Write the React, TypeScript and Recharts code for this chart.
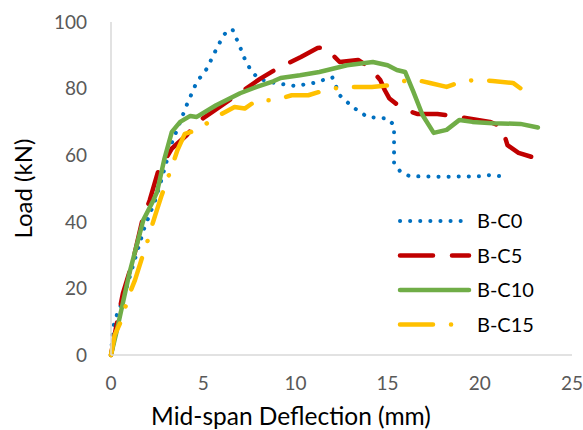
import React from 'react';
import { LineChart, Line, XAxis, YAxis, Legend, Label } from 'recharts';

// B-C0
const bc0X = [0, 0.1, 0.4, 0.6, 1.2, 1.8, 2.4, 2.65, 3.3, 3.75, 4.1, 4.65, 5.2, 5.6, 6.1, 6.4, 6.6, 7.0, 7.2, 7.6, 8.0, 8.6, 9.2, 10.0, 11.0, 12.0, 12.4, 13.1, 13.9, 15.0, 15.35, 15.35, 15.7, 16.2, 18, 20, 20.5, 21.5];
const bc0Y = [0, 8, 13.5, 15.6, 27, 38, 46.5, 51, 63.7, 70, 75, 82, 86, 90.6, 96, 97.8, 97.6, 92.5, 89.5, 85.3, 83, 82, 81.4, 80.8, 81.7, 83.4, 78, 74.5, 71.5, 71, 69, 57.6, 55, 53.7, 53.5, 53.7, 54, 53.5];

// B-C5
const bc5X = [0, 0.3, 0.65, 1.2, 1.7, 2.1, 2.55, 3.3, 4.1, 4.7, 5.5, 6.8, 8.1, 9.0, 10.3, 11.2, 11.6, 12.4, 13.4, 14.0, 14.6, 14.85, 15.1, 15.8, 16.6, 17.7, 18.9, 20.55, 21.2, 21.5, 22.1, 23.1];
const bc5Y = [0, 9, 18.6, 28.5, 40.5, 46.5, 55, 62, 66, 70, 73, 78, 83, 86, 89.5, 92.2, 92.5, 88, 88.6, 86.5, 82.6, 79.5, 77, 74, 72.4, 72.4, 71.5, 70, 68.5, 63, 60.7, 59];

// B-C10
const bc10X = [0, 0.3, 1.0, 1.75, 2.3, 2.5, 2.9, 3.3, 3.75, 4.3, 4.65, 5.7, 7, 7.9, 8.8, 9.2, 10.25, 11.3, 12.8, 14.2, 15, 15.5, 15.95, 16.4, 16.9, 17.5, 18.2, 18.9, 19.6, 20.7, 22.2, 23.15];
const bc10Y = [0, 7, 24.6, 40.5, 46.5, 49, 59, 67, 70, 71.8, 71.5, 75, 78.6, 80.5, 82.2, 83.2, 84, 85, 87, 88, 87, 85.6, 85, 79, 72, 66.7, 67.6, 70.6, 70, 69.6, 69.4, 68.3];

// B-C15
const bc15X = [0, 0.2, 0.65, 0.9, 1.3, 1.7, 1.85, 2.1, 2.4, 2.75, 3.3, 3.6, 4.0, 4.7, 5.55, 6.2, 6.7, 7.25, 7.9, 8.9, 9.8, 10.7, 11.9, 13.1, 14.15, 15.1, 16.3, 17.3, 18.2, 19.1, 20, 20.7, 21.8, 22.55];
const bc15Y = [0, 6, 11.5, 17, 22.5, 29.5, 31.5, 36.7, 42, 48, 56.5, 61.5, 66.4, 67.6, 71, 73, 74.5, 74, 76.5, 76.5, 78, 78, 80, 80.5, 80.5, 81, 82.9, 81.7, 80.5, 82.3, 82.6, 82.3, 81.7, 78.7];

const xTicks = [0, 5, 10, 15, 20, 25];
const yTicks = [0, 20, 40, 60, 80, 100];

const FONT = 'Lato, "Open Sans", sans-serif';

const toPoints = (xs: number[], ys: number[]) => xs.map((x, i) => ({ x, y: ys[i] }));

const series = [
  { name: 'B-C0', data: toPoints(bc0X, bc0Y), color: '#0070C0', width: 4, dash: '0.1 10' },
  { name: 'B-C5', data: toPoints(bc5X, bc5Y), color: '#C00000', width: 4.5, dash: '33 19' },
  { name: 'B-C10', data: toPoints(bc10X, bc10Y), color: '#70AD47', width: 4.5, dash: undefined },
  { name: 'B-C15', data: toPoints(bc15X, bc15Y), color: '#FFC000', width: 4.5, dash: '33 18 0.1 18' },
];

const renderLegend = () => (
  <svg width={170} height={140}>
    {series.map((s, i) => (
      <g key={s.name} transform={`translate(0, ${16 + i * 34.5})`}>
        <line x1={3} x2={72} y1={0} y2={0} stroke={s.color} strokeWidth={s.width}
          strokeDasharray={s.dash} strokeLinecap="round" />
        <text x={80} y={0} dy="0.35em" fontSize={20} fontFamily={FONT} fill="#000">{s.name}</text>
      </g>
    ))}
  </svg>
);

// x title is centred on the whole picture, not on the plot
const XTitle = () => (
  <text x={291} y={424.5} textAnchor="middle" fontSize={24.5} fontFamily={FONT} fill="#000">
    Mid-span Deflection (mm)
  </text>
);

const App: React.FC = () => {
  return (
    <div style={{ position: 'absolute', left: 0, top: 0, background: '#fff' }}>
      <LineChart width={583} height={430} margin={{ top: 22, right: 11, bottom: 0, left: 0 }}>
        <XAxis type="number" dataKey="x" domain={[0, 25]} ticks={xTicks} height={75}
          axisLine={{ stroke: '#d9d9d9', strokeWidth: 1.5 }} tickLine={false} tickMargin={16}
          tick={{ fill: '#595959', fontSize: 19, fontFamily: FONT }}>
          <Label content={XTitle} />
        </XAxis>
        <YAxis type="number" dataKey="y" domain={[0, 100]} ticks={yTicks} width={111}
          axisLine={{ stroke: '#d9d9d9', strokeWidth: 1.5 }} tickLine={false} tickMargin={18}
          tick={{ fill: '#595959', fontSize: 19, fontFamily: FONT }}>
          <Label value="Load (kN)" angle={-90} position="insideLeft" offset={23}
            style={{ fill: '#000', fontSize: 24, fontFamily: FONT, textAnchor: 'middle' }} />
        </YAxis>
        {series.map((s) => (
          <Line key={s.name} data={s.data} dataKey="y" name={s.name} type="linear"
            stroke={s.color} strokeWidth={s.width} strokeDasharray={s.dash} strokeLinecap="round"
            strokeLinejoin="round" dot={false} activeDot={false} isAnimationActive={false} />
        ))}
        <Legend content={renderLegend} layout="vertical" align="center" verticalAlign="middle"
          wrapperStyle={{ position: 'absolute', left: 397, top: 205, width: 170, height: 140 }} />
      </LineChart>
    </div>
  );
};

export default App;
